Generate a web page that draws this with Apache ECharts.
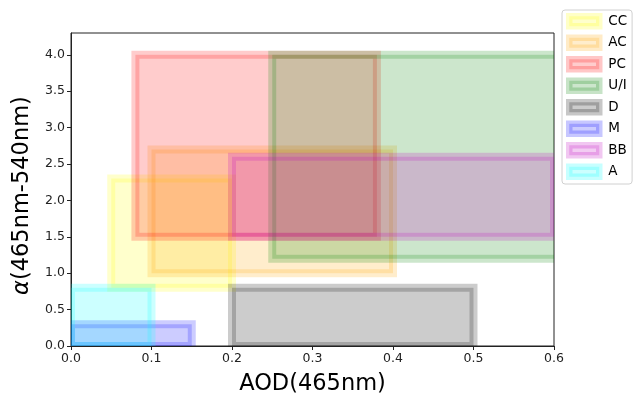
<!DOCTYPE html>
<html>
<head>
<meta charset="utf-8">
<script src="https://cdn.jsdelivr.net/npm/echarts@6/dist/echarts.min.js"></script>
<style>
  html, body { margin: 0; padding: 0; background: #fff; }
  #chart { width: 634px; height: 401px; }
</style>
</head>
<body>
<div id="chart"></div>
<script>
// boxes: AOD range (x) and alpha range (y) per aerosol type
const names = ["CC", "AC", "PC", "U/I", "D", "M", "BB", "A"];
const aodMin = [0.05, 0.1, 0.08, 0.25, 0.2, 0.0, 0.2, 0.0];
const aodMax = [0.2, 0.4, 0.38, 0.7, 0.5, 0.15, 0.6, 0.1];
const alphaMin = [0.8, 1.0, 1.5, 1.2, 0.0, 0.0, 1.5, 0.0];
const alphaMax = [2.3, 2.7, 4.0, 4.0, 0.8, 0.3, 2.6, 0.8];
const xTicks = [0, 0.1, 0.2, 0.3, 0.4, 0.5, 0.6];
const yTicks = [0, 0.5, 1.0, 1.5, 2.0, 2.5, 3.0, 3.5, 4.0];

const colors = [
  [255, 255, 0], [255, 165, 0], [255, 0, 0], [0, 128, 0],
  [0, 0, 0], [0, 0, 255], [191, 0, 191], [0, 255, 255]
];
const rgba = (c, a) => `rgba(${c[0]},${c[1]},${c[2]},${a})`;

const chart = echarts.init(document.getElementById("chart"));

const series = names.map((name, i) => ({
  name: name,
  type: "custom",
  clip: true,
  itemStyle: { color: rgba(colors[i], 0.2) },
  data: [[aodMin[i], aodMax[i], alphaMin[i], alphaMax[i]]],
  renderItem: (params, api) => {
    const p0 = api.coord([api.value(0), api.value(3)]);
    const p1 = api.coord([api.value(1), api.value(2)]);
    return {
      type: "rect",
      shape: { x: p0[0], y: p0[1], width: p1[0] - p0[0], height: p1[1] - p0[1] },
      style: {
        fill: rgba(colors[i], 0.2),
        stroke: rgba(colors[i], 0.2),
        lineWidth: 8
      }
    };
  }
}));

const option = {
  animation: false,
  textStyle: { fontFamily: "DejaVu Sans" },
  grid: {
    left: 71, right: 80, top: 33, bottom: 54,
    show: true, borderColor: "#222", borderWidth: 1, backgroundColor: "transparent"
  },
  legend: {
    orient: "vertical",
    left: 562,
    top: 10,
    padding: [3, 5, 4, 4],
    itemWidth: 30,
    itemHeight: 10,
    itemGap: 5,
    borderColor: "#d0d0d0",
    borderWidth: 1,
    borderRadius: 3,
    backgroundColor: "#fff",
    textStyle: { fontSize: 13.5, color: "#000", fontFamily: "DejaVu Sans", padding: [0, 0, 0, 4] },
    data: names.map((name, i) => ({
      name: name,
      icon: "rect",
      itemStyle: {
        color: rgba(colors[i], 0.2),
        borderColor: rgba(colors[i], 0.22),
        borderWidth: 6.5
      }
    }))
  },
  xAxis: {
    type: "value",
    min: 0,
    max: 0.6,
    interval: 0.1,
    name: "AOD(465nm)",
    nameLocation: "middle",
    nameGap: 27,
    nameTextStyle: { fontSize: 22.5, color: "#000", fontFamily: "DejaVu Sans" },
    splitLine: { show: false },
    axisLine: { show: true, lineStyle: { color: "#222" } },
    axisTick: { show: true, length: 4, lineStyle: { color: "#222" }, customValues: xTicks },
    axisLabel: {
      fontSize: 12.5, color: "#222", margin: 6,
      customValues: xTicks,
      formatter: (v) => v.toFixed(1)
    }
  },
  yAxis: {
    type: "value",
    min: 0,
    max: 4.3,
    name: "{a|α}(465nm-540nm)",
    nameLocation: "middle",
    nameGap: 37,
    nameTextStyle: {
      fontSize: 22.5, color: "#000", fontFamily: "DejaVu Sans",
      padding: [0, 12, 0, 0],
      rich: { a: { fontSize: 22.5, fontStyle: "italic", color: "#000", fontFamily: "DejaVu Sans" } }
    },
    splitLine: { show: false },
    axisLine: { show: true, lineStyle: { color: "#222" } },
    axisTick: { show: true, length: 4, lineStyle: { color: "#222" }, customValues: yTicks },
    axisLabel: {
      fontSize: 12.5, color: "#222", margin: 6,
      customValues: yTicks,
      formatter: (v) => v.toFixed(1)
    }
  },
  series: series
};

chart.setOption(option);
</script>
</body>
</html>
